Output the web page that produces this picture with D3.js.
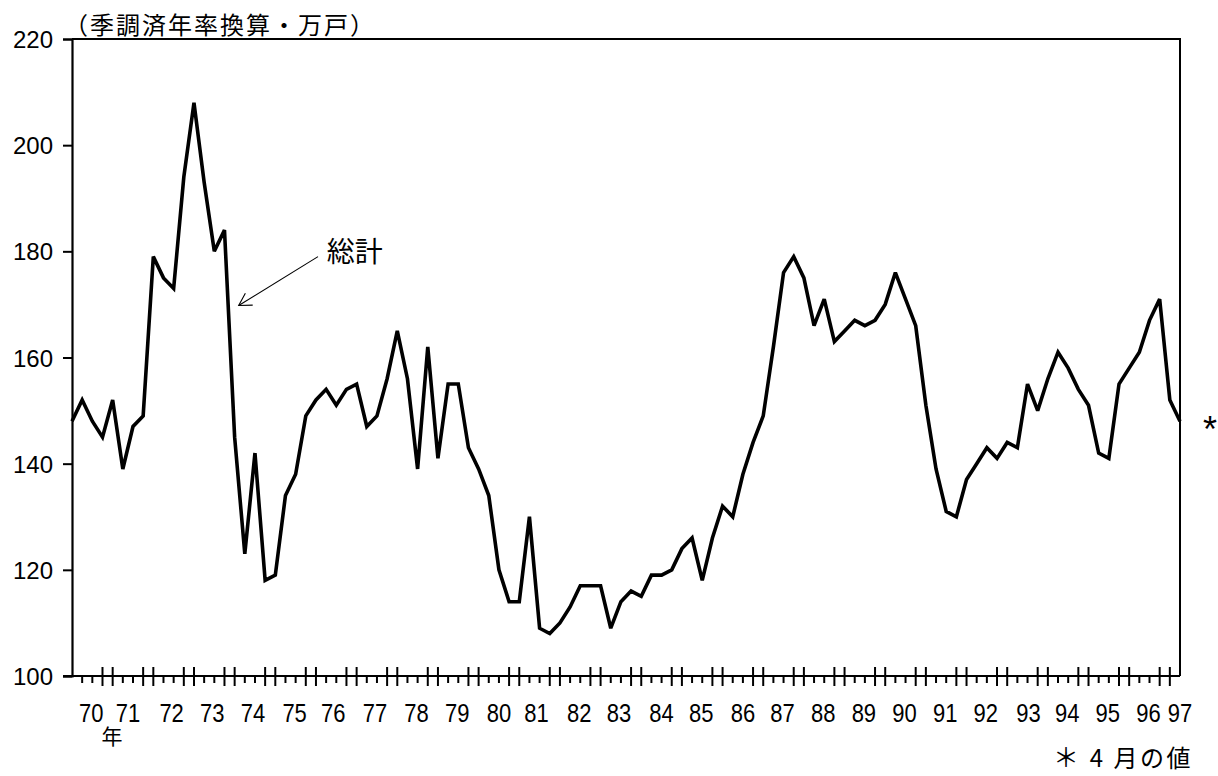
<!DOCTYPE html>
<html>
<head>
<meta charset="utf-8">
<script src="https://cdn.jsdelivr.net/npm/d3@7"></script>
<style>
  html, body { margin: 0; padding: 0; background: #fff; }
  svg { display: block; }
  .num { font-family: "Liberation Sans", Arial, sans-serif; }
  .jp { font-family: "Noto Sans CJK JP", sans-serif; }
</style>
</head>
<body>
<svg id="chart" width="1218" height="776"></svg>
<script>
// Quarterly housing starts (seasonally adjusted annual rate, 10k units), 1970Q1 .. 1997Q2 (last = April value)
const startYear = 1970;
const values = [
  148, 152, 148, 145,   // 1970
  152, 139, 147, 149,   // 1971
  179, 175, 173, 194,   // 1972
  208, 193, 180, 184,   // 1973
  145, 123, 142, 118,   // 1974
  119, 134, 138, 149,   // 1975
  152, 154, 151, 154,   // 1976
  155, 147, 149, 156,   // 1977
  165, 156, 139, 162,   // 1978
  141, 155, 155, 143,   // 1979
  139, 134, 120, 114,   // 1980
  114, 130, 109, 108,   // 1981
  110, 113, 117, 117,   // 1982
  117, 109, 114, 116,   // 1983
  115, 119, 119, 120,   // 1984
  124, 126, 118, 126,   // 1985
  132, 130, 138, 144,   // 1986
  149, 162, 176, 179,   // 1987
  175, 166, 171, 163,   // 1988
  165, 167, 166, 167,   // 1989
  170, 176, 171, 166,   // 1990
  151, 139, 131, 130,   // 1991
  137, 140, 143, 141,   // 1992
  144, 143, 155, 150,   // 1993
  156, 161, 158, 154,   // 1994
  151, 142, 141, 155,   // 1995
  158, 161, 167, 171,   // 1996
  152, 148              // 1997 (2nd value = April)
];
const yearLabels = ["70","71","72","73","74","75","76","77","78","79","80","81","82","83","84","85","86","87","88","89","90","91","92","93","94","95","96","97"];
// category position (quarter index) where each year label sits
const yearLabelPos = [1.9, 5.5, 9.8, 13.8, 17.8, 21.9, 25.7, 29.8, 33.9, 37.9, 42, 45.7, 49.9, 53.8, 58, 61.9, 66, 69.9, 73.9, 77.9, 81.9, 85.9, 89.9, 94.1, 97.9, 101.9, 105.9, 109];
const yTicks = [100, 120, 140, 160, 180, 200, 220];
const unitLabel = "（季調済年率換算・万戸）";
const seriesLabel = "総計";
const yearSuffix = "年";
const footnoteMark = "＊";
const footnote = "4 月の値";
const lastMark = "*";

const svg = d3.select("#chart");
const n = values.length;
const x = d3.scaleLinear().domain([0, n - 1]).range([72, 1180]);
const y = d3.scaleLinear().domain([100, 220]).range([676, 39]);

// plot frame (top and right)
svg.append("path")
  .attr("d", `M${x(0)},${y(220)}H${x(n - 1)}V${y(100)}`)
  .attr("fill", "none").attr("stroke", "#000").attr("stroke-width", 2);

// y axis
const yAxis = d3.axisLeft(y).tickValues(yTicks).tickSize(9).tickPadding(10).tickFormat(d3.format("d"));
const gy = svg.append("g").attr("transform", `translate(${x(0)},0)`).call(yAxis);
gy.select(".domain").attr("stroke-width", 2.2);
gy.selectAll(".tick line").attr("stroke-width", 2);
gy.selectAll(".tick text").attr("class", "num").attr("font-size", 24).attr("fill", "#000").attr("dy", "0.36em");

// x axis (baseline + quarter ticks)
svg.append("line").attr("x1", x(0) - 9).attr("x2", x(n - 1)).attr("y1", y(100)).attr("y2", y(100))
  .attr("stroke", "#000").attr("stroke-width", 2.2);
const tickIdx = d3.range(1, n - 1);
svg.append("g").selectAll("line").data(tickIdx).join("line")
  .attr("x1", d => x(d)).attr("x2", d => x(d))
  .attr("y1", d => (d % 4 === 3 || d % 4 === 0) ? y(100) - 9 : y(100))
  .attr("y2", d => (d % 4 === 3 || d % 4 === 0) ? y(100) + 10 : y(100) + 7)
  .attr("stroke", "#000").attr("stroke-width", 2);

svg.append("g").selectAll("text").data(yearLabels).join("text")
  .attr("class", "num")
  .attr("transform", (d, i) => `translate(${x(yearLabelPos[i])},722) scale(1,1.18)`)
  .attr("text-anchor", "middle")
  .attr("font-size", 22)
  .text(d => d);

svg.append("text").attr("class", "jp").attr("x", 112).attr("y", 744)
  .attr("text-anchor", "middle").attr("font-size", 21).text(yearSuffix);

// data line
const line = d3.line().x((d, i) => x(i)).y(d => y(d));
svg.append("path").datum(values)
  .attr("d", line)
  .attr("fill", "none").attr("stroke", "#000").attr("stroke-width", 3.6)
  .attr("stroke-linejoin", "miter").attr("stroke-miterlimit", 3);

// unit label
svg.append("text").attr("class", "jp").attr("x", 64).attr("y", 34)
  .attr("font-size", 24).attr("letter-spacing", 2).text(unitLabel);

// annotation arrow
const tip = [x(16.4), y(169.8)], tail = [x(24.2), y(179)];
svg.append("line").attr("x1", tail[0]).attr("y1", tail[1]).attr("x2", tip[0]).attr("y2", tip[1])
  .attr("stroke", "#000").attr("stroke-width", 1.1);
const ang = Math.atan2(tail[1] - tip[1], tail[0] - tip[0]);
const L = 14, spread = Math.PI / 6;
svg.append("path")
  .attr("d", `M${tip[0] + L * Math.cos(ang + spread)},${tip[1] + L * Math.sin(ang + spread)}L${tip[0]},${tip[1]}L${tip[0] + L * Math.cos(ang - spread)},${tip[1] + L * Math.sin(ang - spread)}`)
  .attr("fill", "none").attr("stroke", "#000").attr("stroke-width", 1.1);
svg.append("text").attr("class", "jp").attr("x", x(25.05)).attr("y", 262)
  .attr("font-size", 28).text(seriesLabel);

// last point mark and footnote
svg.append("text").attr("class", "num").attr("x", 1210).attr("y", 442)
  .attr("text-anchor", "middle").attr("font-size", 36).text(lastMark);
svg.append("text").attr("class", "jp").attr("x", 1066).attr("y", 767)
  .attr("text-anchor", "middle").attr("font-size", 26).text(footnoteMark);
svg.append("text").attr("class", "jp").attr("x", 1193).attr("y", 767)
  .attr("text-anchor", "end").attr("font-size", 24).attr("letter-spacing", 2.5).text(footnote);
</script>
</body>
</html>
